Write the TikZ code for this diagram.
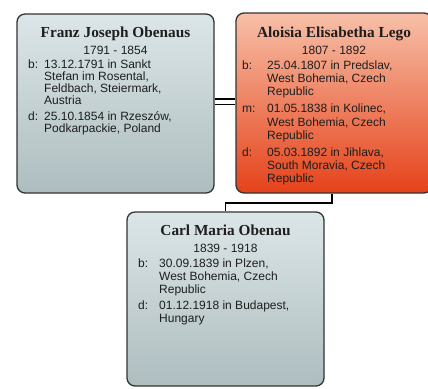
\documentclass[tikz,border=0pt]{standalone}
\usepackage{fontspec}
\setmainfont{Liberation Sans}
\newfontfamily\titlefont{Liberation Serif}
\definecolor{greyA}{HTML}{DCE6E8}
\definecolor{greyB}{HTML}{AEBDBF}
\definecolor{orangeA}{HTML}{F7C0A8}
\definecolor{orangeB}{HTML}{E5421A}
\definecolor{edgecol}{HTML}{333333}
\definecolor{txt}{HTML}{1E1E1E}
\begin{document}
\begin{tikzpicture}[x=1pt,y=-1pt,
  personbox/.style={draw=edgecol, line width=1.3pt, rounded corners=8pt, inner sep=0pt, shading angle=20},
  greybox/.style={personbox, top color=greyA, bottom color=greyB},
  orangebox/.style={personbox, top color=orangeA, bottom color=orangeB},
  titletext/.style={inner sep=0pt, anchor=base, text=txt, font=\titlefont\bfseries\fontsize{15.3}{16}\selectfont},
  datetext/.style={inner sep=0pt, anchor=base, text=txt, font=\fontsize{12}{13}\selectfont},
  bodytext/.style={inner sep=0pt, anchor=base west, text=txt},
  link/.style={line width=1.8pt, black}]
\useasboundingbox (0,0) rectangle (428,388);
\fill[white] (0,0) rectangle (428,388);
\begin{scope}
\clip (0,0) rectangle (428,388);
% boxes
\node[greybox, minimum width=197pt, minimum height=179pt] (franz) at (115.5,103.5) {};
\node[orangebox, minimum width=196pt, minimum height=180pt] (aloisia) at (334,103) {};
\node[greybox, minimum width=197pt, minimum height=174pt] (carl) at (225.5,299) {};
% connectors
\draw[link] ([yshift=4.5pt]franz.east) -- ([yshift=4.5pt]franz.east -| aloisia.west);
\draw[link] ([yshift=-1pt]franz.east) -- ([yshift=-1pt]franz.east -| aloisia.west);
\draw[link] ([xshift=-2pt]aloisia.south) -- ++(0,9) -| (carl.north);
% Franz
\node[titletext] (franzname) at (115.5,37) {Franz Joseph Obenaus};
\node[datetext] (franzdates) at (115.5,54.5) {1791 - 1854};
\node[bodytext] (franzbody) at (28,68) {\fontsize{12}{12}\selectfont\renewcommand{\arraystretch}{1}%
  \begin{tabular}[t]{@{}p{16pt}@{}l@{}}
  b: & 13.12.1791 in Sankt\\
     & Stefan im Rosental,\\
     & Feldbach, Steiermark,\\
     & Austria\\[3pt]
  d: & 25.10.1854 in Rzesz\'ow,\\
     & Podkarpackie, Poland
  \end{tabular}};
% Aloisia
\node[titletext] (aloisianame) at (334,37) {Aloisia Elisabetha Lego};
\node[datetext] (aloisiadates) at (334,54.5) {1807 - 1892};
\node[bodytext] (aloisiabody) at (242,69.5) {\fontsize{12}{13.2}\selectfont\renewcommand{\arraystretch}{1}%
  \begin{tabular}[t]{@{}p{25pt}@{}l@{}}
  b: & 25.04.1807 in Predslav,\\
     & West Bohemia, Czech\\
     & Republic\\[3.8pt]
  m: & 01.05.1838 in Kolinec,\\
     & West Bohemia, Czech\\
     & Republic\\[3.8pt]
  d: & 05.03.1892 in Jihlava,\\
     & South Moravia, Czech\\
     & Republic
  \end{tabular}};
% Carl
\node[titletext] (carlname) at (225.5,235) {Carl Maria Obenau};
\node[datetext] (carldates) at (225.5,252.5) {1839 - 1918};
\node[bodytext] (carlbody) at (138,267) {\fontsize{12}{13}\selectfont\renewcommand{\arraystretch}{1}%
  \begin{tabular}[t]{@{}p{21pt}@{}l@{}}
  b: & 30.09.1839 in Plzen,\\
     & West Bohemia, Czech\\
     & Republic\\[3pt]
  d: & 01.12.1918 in Budapest,\\
     & Hungary
  \end{tabular}};
\end{scope}
\end{tikzpicture}
\end{document}
